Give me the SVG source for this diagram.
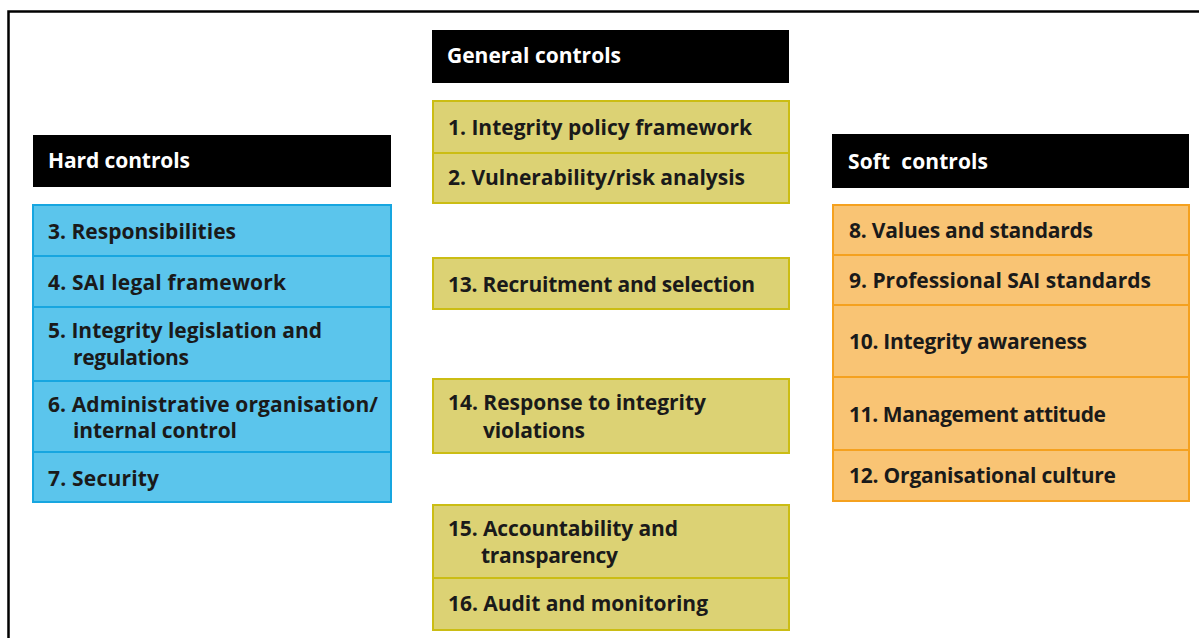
<svg xmlns="http://www.w3.org/2000/svg" width="1199" height="638" viewBox="0 0 1199 638">
<style>
text{font-family:"Open Sans",Lato,"Liberation Sans",sans-serif;font-weight:bold;font-size:21px;fill:#1a1a1a}
.hd{fill:#000}
.hdt{fill:#fff}
.blue{fill:#5bc5ec;stroke:#17a6e0;stroke-width:2}
.yel{fill:#dcd274;stroke:#cbbd14;stroke-width:2}
.org{fill:#f9c474;stroke:#f5a11f;stroke-width:2}
</style>
<rect width="1199" height="638" fill="#fff"/>
<path d="M8.5 638V11.5H1199" fill="none" stroke="#000" stroke-width="2.5"/>

<g id="hard-header"><rect class="hd" x="33" y="135" width="358" height="52"/><text class="hdt" x="48" y="168" textLength="142">Hard controls</text></g>
<g id="general-header"><rect class="hd" x="432" y="30" width="357" height="53"/><text class="hdt" x="447" y="63" textLength="174">General controls</text></g>
<g id="soft-header"><rect class="hd" x="832" y="134" width="357" height="54"/><text class="hdt" x="848" y="169" xml:space="preserve" textLength="140">Soft  controls</text></g>

<g id="hard-3"><rect class="blue" x="33" y="205" width="358" height="51"/><text x="48" y="239" textLength="188">3. Responsibilities</text></g>
<g id="hard-4"><rect class="blue" x="33" y="256" width="358" height="51"/><text x="48" y="290" textLength="238">4. SAI legal framework</text></g>
<g id="hard-5"><rect class="blue" x="33" y="307" width="358" height="74"/><text x="48" y="338" textLength="274">5. Integrity legislation and</text><text x="73" y="365" textLength="116">regulations</text></g>
<g id="hard-6"><rect class="blue" x="33" y="381" width="358" height="71"/><text x="48" y="412" textLength="330">6. Administrative organisation/</text><text x="73" y="438" textLength="164">internal control</text></g>
<g id="hard-7"><rect class="blue" x="33" y="452" width="358" height="50"/><text x="48" y="486" textLength="111">7. Security</text></g>

<g id="gen-1"><rect class="yel" x="433" y="101" width="356" height="52"/><text x="448" y="135" textLength="304">1. Integrity policy framework</text></g>
<g id="gen-2"><rect class="yel" x="433" y="153" width="356" height="50"/><text x="448" y="185" textLength="297">2. Vulnerability/risk analysis</text></g>
<g id="gen-13"><rect class="yel" x="433" y="258" width="356" height="51"/><text x="448" y="292" textLength="307">13. Recruitment and selection</text></g>
<g id="gen-14"><rect class="yel" x="433" y="379" width="356" height="74"/><text x="448" y="410" textLength="258">14. Response to integrity</text><text x="483" y="438" textLength="102">violations</text></g>
<g id="gen-15"><rect class="yel" x="433" y="505" width="356" height="73"/><text x="448" y="536" textLength="230">15. Accountability and</text><text x="481" y="563" textLength="137">transparency</text></g>
<g id="gen-16"><rect class="yel" x="433" y="578" width="356" height="52"/><text x="448" y="611" textLength="260">16. Audit and monitoring</text></g>

<g id="soft-8"><rect class="org" x="833" y="205" width="356" height="50"/><text x="849" y="238" textLength="244">8. Values and standards</text></g>
<g id="soft-9"><rect class="org" x="833" y="255" width="356" height="50"/><text x="849" y="288" textLength="302">9. Professional SAI standards</text></g>
<g id="soft-10"><rect class="org" x="833" y="305" width="356" height="72"/><text x="849" y="349" textLength="238">10. Integrity awareness</text></g>
<g id="soft-11"><rect class="org" x="833" y="377" width="356" height="73"/><text x="849" y="422" textLength="257">11. Management attitude</text></g>
<g id="soft-12"><rect class="org" x="833" y="450" width="356" height="51"/><text x="849" y="483" textLength="267">12. Organisational culture</text></g>

<g id="connectors"></g>
</svg>
